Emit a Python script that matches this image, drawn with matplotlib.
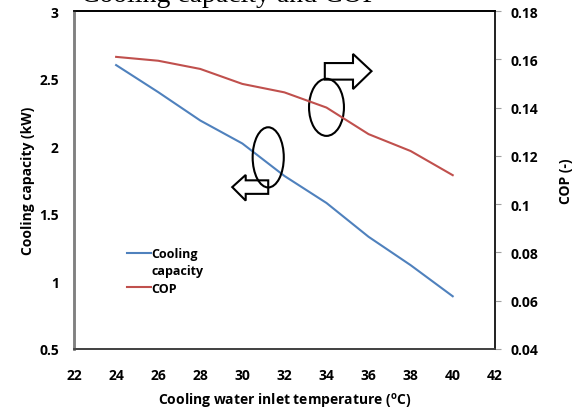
import matplotlib
matplotlib.use("Agg")
import matplotlib.pyplot as plt
from matplotlib.patches import Ellipse, Polygon
from matplotlib.lines import Line2D

temperature = [24, 26, 28, 30, 32, 34, 36, 38, 40]
cooling_capacity = [2.60, 2.40, 2.19, 2.02, 1.78, 1.58, 1.33, 1.12, 0.89]
cop = [0.161, 0.1594, 0.156, 0.1498, 0.1463, 0.140, 0.129, 0.122, 0.112]

x_ticks = [22, 24, 26, 28, 30, 32, 34, 36, 38, 40, 42]
left_ticks = [0.5, 1, 1.5, 2, 2.5, 3]
right_ticks = [0.04, 0.06, 0.08, 0.1, 0.12, 0.14, 0.16, 0.18]

plt.rcParams["font.family"] = ["Open Sans", "DejaVu Sans"]
plt.rcParams["font.weight"] = "bold"

fig = plt.figure(figsize=(5.74, 4.14), dpi=100)
ax = fig.add_axes([0.129, 0.1546, 0.733, 0.8164])
ax2 = ax.twinx()

blue = "#4F81BD"
red = "#C0504D"
ax.plot(temperature, cooling_capacity, color=blue, lw=1.5)
ax2.plot(temperature, cop, color=red, lw=1.5)

ax.set_xlim(22, 42)
ax.set_ylim(0.5, 3)
ax2.set_ylim(0.04, 0.18)
ax.set_xticks(x_ticks)
ax.set_yticks(left_ticks)
ax.set_yticklabels(["0.5", "1", "1.5", "2", "2.5", "3"])
ax2.set_yticks(right_ticks)
ax2.set_yticklabels(["0.04", "0.06", "0.08", "0.1", "0.12", "0.14", "0.16", "0.18"])

ax.tick_params(axis="x", length=0, pad=14, labelsize=10)
ax.tick_params(axis="y", length=0, pad=11, labelsize=10)
ax2.tick_params(axis="y", length=4, width=0.8, color="#A0A0A0", pad=7, labelsize=10)

for a in (ax, ax2):
    a.spines["left"].set_color("#808080")
    a.spines["left"].set_linewidth(1.8)
    a.spines["bottom"].set_color("#404040")
    a.spines["bottom"].set_linewidth(1.2)
    a.spines["top"].set_color("black")
    a.spines["top"].set_linewidth(1.2)
    a.spines["right"].set_color("#202020")
    a.spines["right"].set_linewidth(1.2)

ax.set_xlabel("Cooling water inlet temperature ($\\mathregular{^o}$C)", fontsize=10,
              fontweight="bold", labelpad=6)
ax.set_ylabel("Cooling capacity (kW)", fontsize=10, fontweight="bold", labelpad=3)
ax2.set_ylabel("COP (-)", fontsize=10, fontweight="bold", labelpad=15)

fig.text(0.40, 0.995, "Cooling capacity and COP", family="Liberation Serif",
         fontsize=20, fontweight="normal", ha="center", va="baseline")

# legend (no frame, label wrapped on two rows)
handles = [Line2D([], [], color=blue, lw=1.5),
           Line2D([], [], color="none"),
           Line2D([], [], color=red, lw=1.5)]
ax.legend(handles, ["Cooling", "capacity", "COP"], loc="upper left",
          bbox_to_anchor=(0.1, 0.335), frameon=False, fontsize=9,
          handlelength=1.9, handletextpad=0.0, labelspacing=0.35)

# ellipses and arrows pointing to the axis each curve belongs to
ax.add_patch(Ellipse((0.600, 0.715), 0.083, 0.169, transform=ax.transAxes,
                     fill=False, ec="black", lw=1.5, zorder=5))
ax.add_patch(Ellipse((0.4615, 0.567), 0.074, 0.178, transform=ax.transAxes,
                     fill=False, ec="black", lw=1.5, zorder=5))
right_arrow = [(0.596, 0.846), (0.663, 0.846), (0.663, 0.873), (0.707, 0.822),
               (0.663, 0.769), (0.663, 0.797), (0.596, 0.797)]
left_arrow = [(0.4615, 0.499), (0.408, 0.499), (0.408, 0.515), (0.376, 0.479),
              (0.408, 0.439), (0.408, 0.459), (0.4615, 0.459)]
for pts in (right_arrow, left_arrow):
    ax.add_patch(Polygon(pts, closed=True, transform=ax.transAxes,
                         fc="white", ec="black", lw=1.5, zorder=4))

fig.savefig("out.png", dpi=100)
